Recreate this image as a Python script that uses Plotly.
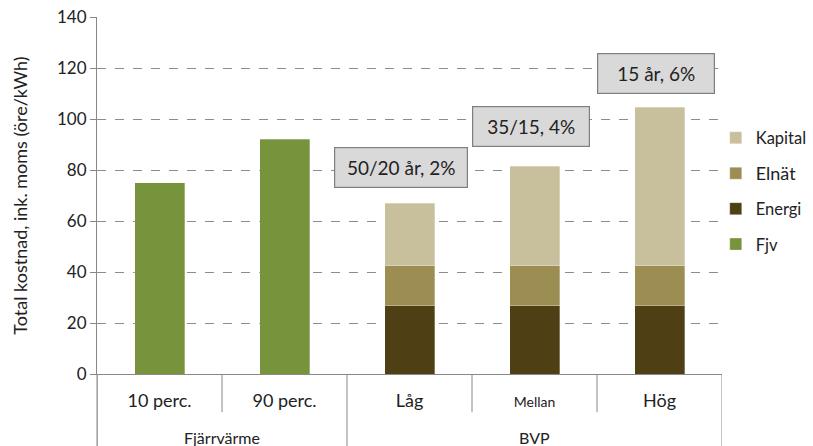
import plotly.graph_objects as go

categories = ["10 perc.", "90 perc.", "Låg", "Mellan", "Hög"]
category_labels = ["10 perc.", "90 perc.", "Låg", "<span style='font-size:14px'>Mellan</span>", "Hög"]
groups = ["Fjärrvärme", "BVP"]
group_spans = [(0, 1), (2, 4)]
fjv = [75, 92, None, None, None]
energi = [None, None, 26.7, 26.7, 26.7]
elnat = [None, None, 15.8, 15.8, 15.8]
kapital = [None, None, 24.5, 38.9, 62.2]
box_labels = ["50/20 år, 2%", "35/15, 4%", "15 år, 6%"]
box_x = [1.93, 2.97, 3.97]
box_y = [81, 97, 117.8]
box_w = [116, 100, 100]
yticks = [0, 20, 40, 60, 80, 100, 120, 140]

FONT = "Lato, 'Open Sans', sans-serif"
AX = "#888888"

fig = go.Figure()
series = [("Fjv", "Fjv", fjv, "#77933c", 4), ("Energi", "Energi", energi, "#4f3f15", 3),
          ("Elnät", "<span style='font-size:18px'>Elnät</span>", elnat, "#9c8e52", 2),
          ("Kapital", "Kapital", kapital, "#c8bf9c", 1)]
for key, label, vals, col, rank in series:
    fig.add_trace(go.Bar(x=categories, y=vals, name=label, legendgroup=key, legendrank=rank,
                         marker=dict(color=col, line=dict(color="rgba(255,255,255,0.6)", width=0.5)),
                         width=0.4))

shapes = []
for i in range(len(categories) + 1):
    pos = i - 0.5
    is_group_edge = any(abs(pos - (s - 0.5)) < 1e-9 or abs(pos - (e + 0.5)) < 1e-9 for s, e in group_spans)
    y0 = -0.21 if is_group_edge else -0.107
    shapes.append(dict(type="line", xref="x", yref="paper", x0=pos, x1=pos, y0=0, y1=y0,
                       line=dict(color=AX, width=1)))

annotations = []
for g, (s, e) in zip(groups, group_spans):
    annotations.append(dict(x=(s + e) / 2, y=-0.177, xref="x", yref="paper", text=g,
                            yanchor="middle", showarrow=False,
                            font=dict(size=16, color="#222", family=FONT)))
for t, bx, by, bw in zip(box_labels, box_x, box_y, box_w):
    annotations.append(dict(x=bx, y=by, xref="x", yref="y", text=t, showarrow=False, width=bw,
                            bgcolor="#d9d9d9", bordercolor="#7f7f7f", borderwidth=1.2,
                            borderpad=8, font=dict(size=19, color="#222", family=FONT)))

fig.update_layout(
    width=813, height=446,
    margin=dict(l=97, r=91, t=17, b=72, autoexpand=False),
    paper_bgcolor="white", plot_bgcolor="white",
    barmode="stack",
    font=dict(family=FONT, color="#222"),
    shapes=shapes, annotations=annotations,
    legend=dict(x=0.99, y=0.71, xanchor="left", yanchor="top", traceorder="grouped",
                tracegroupgap=11, font=dict(size=16.5, color="#222", family=FONT),
                itemwidth=30, bgcolor="rgba(0,0,0,0)"),
    xaxis=dict(range=[-0.5, 4.5], showline=True, linecolor=AX, linewidth=1,
               tickvals=categories, ticktext=category_labels,
               tickfont=dict(size=18, color="#222"), ticks="", ticklabelstandoff=10),
    yaxis=dict(range=[0, 140], tickvals=yticks, showline=True, linecolor=AX, linewidth=1,
               ticks="outside", ticklen=6, tickcolor=AX,
               showgrid=True, gridcolor="#8c8c8c", griddash="dash", gridwidth=1,
               zeroline=False, tickfont=dict(size=17, color="#222"),
               title=dict(text="Total kostnad, ink. moms (öre/kWh)", font=dict(size=18, color="#222"),
                          standoff=24)),
)
fig.add_shape(type="line", xref="paper", yref="paper", x0=0, x1=0, y0=0, y1=-0.21,
              line=dict(color=AX, width=1))

fig.write_html("out.html")
